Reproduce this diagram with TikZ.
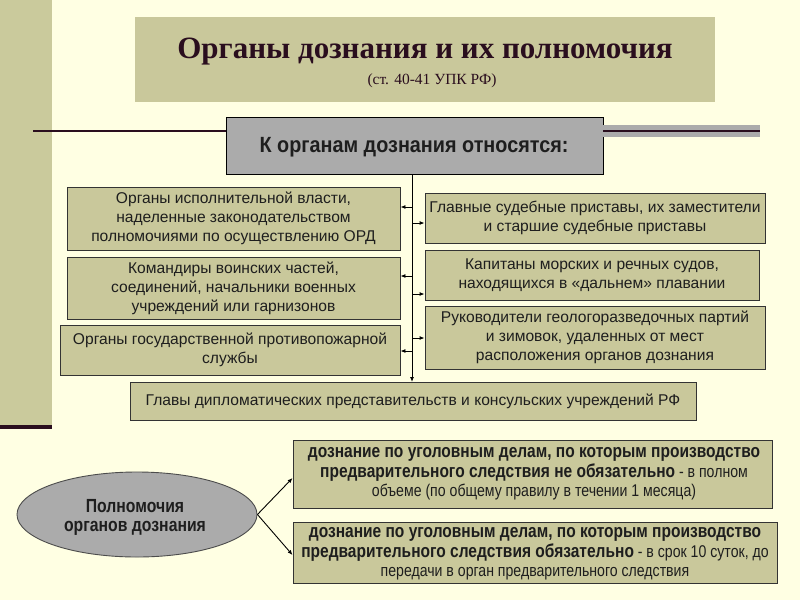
\documentclass[tikz,border=0pt]{standalone}
\usepackage{fontspec}
\setmainfont{Liberation Sans}
\newfontfamily\serifT{Liberation Serif}
\newfontfamily\narrow[FakeStretch=0.83]{Liberation Sans}
\newfontfamily\hdrfont[FakeStretch=0.9]{Liberation Sans}
\usetikzlibrary{arrows.meta,shapes.geometric}
\definecolor{bg}{HTML}{FFFFE3}
\definecolor{olive}{HTML}{CACA9C}
\definecolor{boxfill}{HTML}{C9C89B}
\definecolor{hdrgray}{HTML}{ABABAB}
\definecolor{maroon}{HTML}{2A0E1E}
\definecolor{txt}{HTML}{1E1E1E}
\tikzset{
  item/.style={draw=black!80, line width=0.9pt, fill=boxfill, text=txt, align=center, font=\fontsize{15.6}{19}\selectfont, inner sep=0pt},
  conn/.style={line width=0.9pt, draw=black, -{Latex[length=5pt,width=4pt]}},
  powtext/.style={text=txt, align=center, inner sep=0pt, font=\narrow\fontsize{17}{19.5}\selectfont},
}
\newcommand{\bpart}[1]{{\fontsize{18.7}{19.5}\selectfont\bfseries #1}}
\begin{document}
\begin{tikzpicture}[x=1pt,y=-1pt]
\fill[bg] (0,0) rectangle (800,600);
\useasboundingbox (0,0) rectangle (800,600);
% left strip
\fill[olive] (0,0) rectangle (52,425);
\fill[maroon] (0,425) rectangle (52,429);
% title
\node[fill=boxfill, minimum width=580pt, minimum height=85pt, inner sep=0pt] (title) at (425,59.5) {};
\node[font=\serifT\bfseries\fontsize{31}{33}\selectfont, text=maroon] (t1) at (425,52) {Органы дознания и их полномочия};
\node[font=\serifT\fontsize{15.5}{17}\selectfont, text=maroon] (t2) at (432,81) {(ст. 40-41 УПК РФ)};
% header
\node[draw=black, line width=0.9pt, fill=hdrgray, minimum width=377pt, minimum height=57pt, inner sep=0pt, text=txt] (hdr) at (414.5,145.5) {};
\node[font=\hdrfont\bfseries\fontsize{22}{24}\selectfont, text=txt] (hdrt) at (414,147) {К органам дознания относятся:};
\coordinate (hl) at (33,131);
\coordinate (hr) at (760,131);
\fill[hdrgray] (hdr.east |- 0,125) rectangle (760,137);
\draw[maroon, line width=2.2pt] (hl) -- (hl -| hdr.west);
\draw[maroon, line width=2.2pt] (hr -| hdr.east) -- (hr);
% left boxes
\node[item, minimum width=333pt, minimum height=63pt] (L1) at (233.5,218.5) {Органы исполнительной власти,\\наделенные законодательством\\полномочиями по осуществлению ОРД};
\node[item, minimum width=333pt, minimum height=62pt] (L2) at (233.5,288) {Командиры воинских частей,\\соединений, начальники военных\\учреждений или гарнизонов};
\node[item, minimum width=340pt, minimum height=50pt] (L3) at (230,350) {Органы государственной противопожарной\\службы};
% right boxes
\node[item, minimum width=340pt, minimum height=50pt] (R1) at (595,218) {Главные судебные приставы, их заместители\\и старшие судебные приставы};
\node[item, minimum width=334pt, minimum height=50pt] (R2) at (592,275) {Капитаны морских и речных судов,\\находящихся в «дальнем» плавании};
\node[item, minimum width=340pt, minimum height=63pt] (R3) at (595,337.5) {Руководители геологоразведочных партий\\и зимовок, удаленных от мест\\расположения органов дознания};
% bottom box
\node[item, minimum width=566pt, minimum height=38pt] (D) at (413,401) {Главы дипломатических представительств и консульских учреждений РФ};
% trunk
\coordinate (top) at (412,174);
\draw[conn] (top) -- (412,382);
\draw[conn] (412,207) -- (L1.east |- 0,207);
\draw[conn] (412,276) -- (L2.east |- 0,276);
\draw[conn] (412,351) -- (L3.east |- 0,351);
\draw[conn] (412,223) -- (R1.west |- 0,223);
\draw[conn] (412,294) -- (R2.west |- 0,294);
\draw[conn] (412,338) -- (R3.west |- 0,338);
% powers
\node[ellipse, draw=black!70, line width=0.9pt, fill=hdrgray, minimum width=240pt, minimum height=85pt, inner sep=0pt] (E) at (137,514.5) {};
\node[align=center, inner sep=0pt, font=\narrow\bfseries\fontsize{19}{19}\selectfont, text=txt] (Et) at (135,517) {Полномочия\\органов дознания};
\node[item, minimum width=479pt, minimum height=68pt] (B1) at (532.5,474) {};
\node[powtext] (B1t) at (534,474) {\bpart{дознание по уголовным делам, по которым производство}\\\bpart{предварительного следствия не обязательно} - в полном\\объеме (по общему правилу в течении 1 месяца)};
\node[item, minimum width=484pt, minimum height=61pt] (B2) at (535,552.5) {};
\node[powtext] (B2t) at (535,554) {\bpart{дознание по уголовным делам, по которым производство}\\\bpart{предварительного следствия обязательно} - в срок 10 суток, до\\передачи в орган предварительного следствия};
\draw[conn] (E.east) -- (B1.west |- 0,478);
\draw[conn] (E.east) -- (B2.west |- 0,555);
\end{tikzpicture}
\end{document}
